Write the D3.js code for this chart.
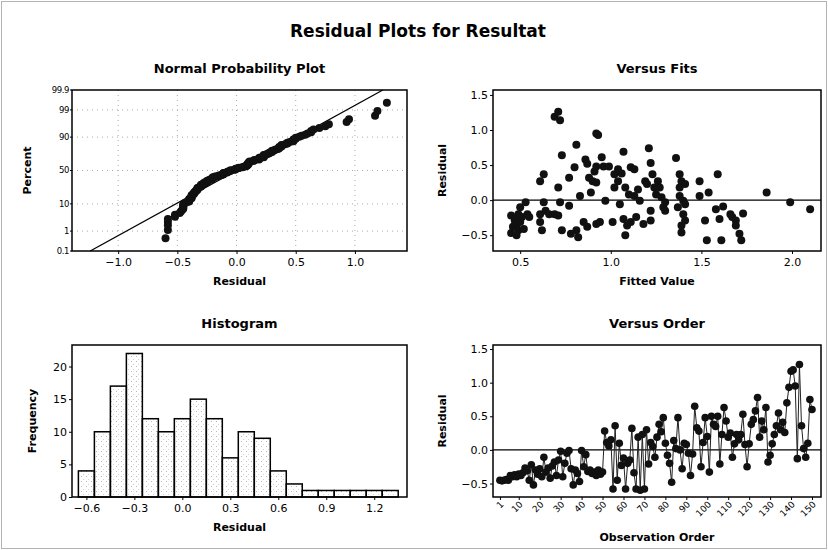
<!DOCTYPE html>
<html>
<head>
<meta charset="utf-8">
<script src="https://cdn.jsdelivr.net/npm/d3@7"></script>
<style>
body{margin:0;background:#fff}
text{font-family:"DejaVu Sans",Verdana,sans-serif}
</style>
</head>
<body>
<div id="chart"></div>
<script>
// residuals in observation order (1..150)
var residuals = [
 -0.45,-0.46,-0.45,-0.44,-0.45,-0.38,-0.40,-0.37,-0.40,-0.36,
 -0.38,-0.34,-0.27,-0.31,-0.45,-0.22,-0.52,-0.30,-0.36,-0.28,
 -0.40,-0.11,-0.33,-0.27,-0.42,-0.24,-0.18,-0.38,-0.15,-0.02,
 -0.40,-0.20,-0.05,-0.01,-0.28,-0.52,-0.30,-0.35,-0.47,-0.01,
 -0.25,-0.07,-0.32,-0.30,-0.35,-0.33,-0.38,-0.30,-0.36,-0.33,
 0.28,0.11,0.06,0.15,-0.58,0.36,-0.45,0.10,-0.23,-0.12,
 -0.58,-0.20,-0.15,0.32,-0.34,-0.58,0.19,-0.60,0.23,-0.58,
 0.30,-0.21,0.11,0.05,-0.11,0.19,0.38,0.27,0.48,0.10,
 -0.08,-0.20,-0.48,0.14,0.02,0.48,0.00,-0.28,0.10,0.08,
 -0.05,-0.38,-0.06,0.65,0.33,0.28,-0.25,0.11,0.48,0.20,
 -0.33,0.50,0.38,0.35,0.50,-0.21,0.23,0.63,0.43,0.19,
 0.25,-0.11,0.09,0.23,0.15,0.23,0.53,0.08,-0.25,0.09,
 0.38,0.45,0.58,0.78,0.19,0.43,0.30,0.63,-0.18,-0.08,
 0.09,0.23,0.36,0.55,0.30,0.41,0.26,0.70,0.93,1.17,
 1.19,0.95,-0.13,1.27,0.36,0.02,-0.11,0.10,0.75,0.60
]

// versus fits: [fitted value, residual]
var fits = [
 [0.45,-0.47],[0.46,-0.38],[0.47,-0.29],[0.45,-0.22],[0.48,-0.36],[0.49,-0.43],[0.50,-0.31],[0.50,-0.10],
 [0.51,-0.24],[0.52,-0.41],[0.53,-0.03],[0.54,-0.20],[0.55,-0.24],[0.49,-0.20],[0.48,-0.50],[0.61,0.27],
 [0.63,0.37],[0.61,-0.20],[0.61,-0.31],[0.62,-0.43],[0.63,-0.03],[0.64,-0.15],[0.66,-0.20],[0.69,-0.20],
 [0.71,-0.22],[0.69,1.19],[0.71,1.26],[0.72,1.14],[0.71,0.18],[0.72,-0.03],[0.73,0.64],[0.73,-0.43],
 [0.77,0.32],[0.77,-0.08],[0.78,-0.48],[0.80,0.47],[0.81,0.79],[0.81,-0.43],[0.82,-0.53],[0.83,0.06],
 [0.85,-0.31],[0.86,0.58],[0.87,0.52],[0.87,-0.38],[0.88,0.32],[0.89,0.11],[0.90,0.27],[0.91,0.41],
 [0.92,0.48],[0.92,0.95],[0.93,0.93],[0.92,0.25],[0.92,-0.34],[0.94,-0.31],[0.95,0.61],[0.96,0.48],
 [0.97,-0.01],[0.99,0.48],[1.01,-0.31],[1.02,0.37],[1.02,0.18],[1.04,0.27],[1.04,0.44],[1.05,-0.06],
 [1.06,0.38],[1.07,0.69],[1.07,-0.27],[1.08,0.18],[1.09,-0.36],[1.08,-0.50],[1.10,0.08],[1.11,0.47],
 [1.11,-0.31],[1.13,0.44],[1.13,0.06],[1.14,-0.24],[1.15,0.15],[1.16,-0.01],[1.18,-0.34],[1.19,0.27],
 [1.20,0.23],[1.21,0.74],[1.22,0.53],[1.22,-0.15],[1.22,-0.29],[1.23,0.37],[1.24,0.18],[1.25,0.08],
 [1.26,0.27],[1.27,0.18],[1.28,0.04],[1.29,-0.10],[1.30,-0.03],[1.30,-0.15],[1.36,0.60],[1.37,-0.10],
 [1.38,0.37],[1.38,0.18],[1.38,0.06],[1.39,0.27],[1.39,-0.36],[1.39,-0.46],[1.40,-0.20],[1.40,-0.01],
 [1.41,-0.29],[1.41,0.23],[1.41,-0.06],[1.49,0.27],[1.49,0.06],[1.52,-0.29],[1.53,-0.57],[1.54,0.11],
 [1.58,-0.13],[1.59,0.37],[1.60,-0.27],[1.61,-0.57],[1.62,-0.09],[1.66,-0.20],[1.67,-0.24],[1.69,-0.29],
 [1.69,-0.36],[1.71,-0.48],[1.72,-0.57],[1.73,-0.19],[1.86,0.11],[1.99,-0.03],[2.10,-0.13]
]

// histogram
var histCenters = [-0.6,-0.5,-0.4,-0.3,-0.2,-0.1,0.0,0.1,0.2,0.3,0.4,0.5,0.6,0.7,0.8,0.9,1.0,1.1,1.2,1.3]
var histCounts = [4,10,17,22,12,10,12,15,12,6,10,9,4,2,1,1,1,1,1,1]

// fitted normal line
var lineMean = 0, lineSd = 0.4

// tick labels
var probTicks = [0.1,1,10,50,90,99,99.9]
var npXTicks = [-1.0,-0.5,0.0,0.5,1.0]
var residTicks = [-0.5,0.0,0.5,1.0,1.5]
var fitTicks = [0.5,1.0,1.5,2.0]
var histXTicks = [-0.6,-0.3,0.0,0.3,0.6,0.9,1.2]
var histYTicks = [0,5,10,15,20]
var orderTicks = [1,10,20,30,40,50,60,70,80,90,100,110,120,130,140,150]

var f1 = d3.format(".1f")

function probit(p){
  var a=[-39.69683028665376,220.9460984245205,-275.9285104469687,138.3577518672690,-30.66479806614716,2.506628277459239],
      b=[-54.47609879822406,161.5858368580409,-155.6989798598866,66.80131188771972,-13.28068155288572],
      c=[-7.784894002430293e-03,-0.3223964580411365,-2.400758277161838,-2.549732539343734,4.374664141464968,2.938163982698783],
      d=[7.784695709041462e-03,0.3224671290700398,2.445134137142996,3.754408661907416]
  var q,r
  if(p<0.02425){q=Math.sqrt(-2*Math.log(p));return (((((c[0]*q+c[1])*q+c[2])*q+c[3])*q+c[4])*q+c[5])/((((d[0]*q+d[1])*q+d[2])*q+d[3])*q+1)}
  if(p>1-0.02425){q=Math.sqrt(-2*Math.log(1-p));return -(((((c[0]*q+c[1])*q+c[2])*q+c[3])*q+c[4])*q+c[5])/((((d[0]*q+d[1])*q+d[2])*q+d[3])*q+1)}
  q=p-0.5;r=q*q
  return (((((a[0]*r+a[1])*r+a[2])*r+a[3])*r+a[4])*r+a[5])*q/(((((b[0]*r+b[1])*r+b[2])*r+b[3])*r+b[4])*r+1)
}

var svg = d3.select("#chart").append("svg")
  .attr("width",828).attr("height",550)

var defs = svg.append("defs")
var pat = defs.append("pattern").attr("id","stip")
  .attr("patternUnits","userSpaceOnUse").attr("width",5).attr("height",5)
pat.append("rect").attr("x",1).attr("y",1).attr("width",1).attr("height",1).attr("fill","#b8b8b8")
pat.append("rect").attr("x",3).attr("y",4).attr("width",1).attr("height",1).attr("fill","#d4d4d4")

// outer border
svg.append("rect").attr("x",1.5).attr("y",1.5).attr("width",825).attr("height",547)
  .attr("fill","none").attr("stroke","#666").attr("stroke-dasharray","1,1")

svg.append("text").text("Residual Plots for Resultat")
  .attr("x",418).attr("y",37).attr("text-anchor","middle")
  .attr("font-size",17).attr("font-weight","bold")

var L = {x0:72,x1:407}, R = {x0:493,x1:821}
var T = {y0:90,y1:251}, B = {y0:345,y1:497}

function panel(h,v,title,xlab,ylab,ylabX,xlabDy){
  var g = svg.append("g")
  g.append("text").text(title).attr("x",(h.x0+h.x1)/2).attr("y",v.y0-17)
    .attr("text-anchor","middle").attr("font-size",13).attr("font-weight","bold")
  g.append("text").text(xlab).attr("x",(h.x0+h.x1)/2).attr("y",v.y1+(xlabDy||34))
    .attr("text-anchor","middle").attr("font-size",11).attr("font-weight","bold")
  g.append("text").text(ylab)
    .attr("transform","translate("+ylabX+","+((v.y0+v.y1)/2)+") rotate(-90)")
    .attr("text-anchor","middle").attr("font-size",11).attr("font-weight","bold")
  return g
}
function frame(g,h,v){
  g.append("rect").attr("x",h.x0).attr("y",v.y0).attr("width",h.x1-h.x0).attr("height",v.y1-v.y0)
    .attr("fill","none").attr("stroke","#000").attr("stroke-width",1.5)
}
function axes(g,x,y,v,h,xt,yt,xf,yf){
  var ax = g.append("g").attr("transform","translate(0,"+v.y1+")")
    .call(d3.axisBottom(x).tickValues(xt).tickFormat(xf).tickSize(3).tickPadding(4))
  var ay = g.append("g").attr("transform","translate("+h.x0+",0)")
    .call(d3.axisLeft(y).tickValues(yt).tickFormat(yf).tickSize(3).tickPadding(2))
  ax.select(".domain").remove(); ay.select(".domain").remove()
  ax.selectAll("text").attr("font-size",11).attr("fill","#000").attr("font-family","DejaVu Sans")
  ay.selectAll("text").attr("font-size",11).attr("fill","#000").attr("font-family","DejaVu Sans")
  return ax
}

// ---- Normal probability plot
var g1 = panel(L,T,"Normal Probability Plot","Residual","Percent",31)
var x1 = d3.scaleLinear().domain([-1.39,1.44]).range([L.x0,L.x1])
var zs = d3.scaleLinear().domain([probit(0.001),probit(0.999)]).range([T.y1,T.y0])
var y1 = p=>zs(probit(p/100))
g1.selectAll(".hg").data(probTicks.slice(1,-1)).enter().append("line")
  .attr("x1",L.x0).attr("x2",L.x1).attr("y1",d=>y1(d)).attr("y2",d=>y1(d))
  .attr("stroke","#aaa").attr("stroke-dasharray","1,4")
g1.selectAll(".vg").data(npXTicks).enter().append("line")
  .attr("y1",T.y0).attr("y2",T.y1).attr("x1",d=>x1(d)).attr("x2",d=>x1(d))
  .attr("stroke","#aaa").attr("stroke-dasharray","1,4")
var zEnds = [probit(0.001),probit(0.999)]
g1.append("line")
  .attr("x1",x1(lineMean+lineSd*zEnds[0])).attr("y1",zs(zEnds[0]))
  .attr("x2",x1(lineMean+lineSd*zEnds[1])).attr("y2",zs(zEnds[1]))
  .attr("stroke","#000").attr("stroke-width",1.3)
var sorted = residuals.slice().sort(d3.ascending)
var n = sorted.length
g1.selectAll(".np").data(sorted).enter().append("circle")
  .attr("cx",d=>x1(d)).attr("cy",(d,i)=>zs(probit((i+1-0.3)/(n+0.4))))
  .attr("r",4).attr("fill","#111")
frame(g1,L,T)
var ay1 = g1.append("g").attr("transform","translate("+L.x0+",0)")
ay1.selectAll("t").data(probTicks).enter().append("text")
  .text(d=>d).attr("x",-3).attr("y",d=>y1(d)).attr("dy","0.35em")
  .attr("text-anchor","end").attr("font-size",8.5).attr("letter-spacing",-0.4)
ay1.selectAll("l").data(probTicks).enter().append("line")
  .attr("x1",-2).attr("x2",0).attr("y1",d=>y1(d)).attr("y2",d=>y1(d)).attr("stroke","#000")
var ax1 = g1.append("g").attr("transform","translate(0,"+T.y1+")")
  .call(d3.axisBottom(x1).tickValues(npXTicks).tickFormat(f1).tickSize(3).tickPadding(4))
ax1.select(".domain").remove()
ax1.selectAll("text").attr("font-size",11).attr("fill","#000").attr("font-family","DejaVu Sans")

// ---- Versus fits
var g2 = panel(R,T,"Versus Fits","Fitted Value","Residual",446)
var x2 = d3.scaleLinear().domain([0.35,2.16]).range([R.x0,R.x1])
var y2 = d3.scaleLinear().domain([-0.725,1.57]).range([T.y1,T.y0])
g2.append("line").attr("x1",R.x0).attr("x2",R.x1).attr("y1",y2(0)).attr("y2",y2(0))
  .attr("stroke","#000").attr("stroke-width",1.3)
g2.selectAll(".pt").data(fits).enter().append("circle")
  .attr("cx",d=>x2(d[0])).attr("cy",d=>y2(d[1])).attr("r",4).attr("fill","#111")
frame(g2,R,T)
axes(g2,x2,y2,T,R,fitTicks,residTicks,f1,f1)

// ---- Histogram
var g3 = panel(L,B,"Histogram","Residual","Frequency",36)
var x3 = d3.scaleLinear().domain([-0.69,1.405]).range([L.x0,L.x1])
var y3 = d3.scaleLinear().domain([0,23.3]).range([B.y1,B.y0])
g3.selectAll(".bar").data(histCounts).enter().append("rect")
  .attr("x",(d,i)=>x3(histCenters[i]-0.05)).attr("width",(d,i)=>x3(histCenters[i]+0.05)-x3(histCenters[i]-0.05))
  .attr("y",d=>y3(d)).attr("height",d=>y3(0)-y3(d))
  .attr("fill","url(#stip)").attr("stroke","#000").attr("stroke-width",1.5)
frame(g3,L,B)
axes(g3,x3,y3,B,L,histXTicks,histYTicks,f1,d3.format("d"))

// ---- Versus order
var g4 = panel(R,B,"Versus Order","Observation Order","Residual",446,44)
var x4 = d3.scaleLinear().domain([-2.3,154.3]).range([R.x0,R.x1])
var y4 = d3.scaleLinear().domain([-0.7,1.56]).range([B.y1,B.y0])
g4.append("line").attr("x1",R.x0).attr("x2",R.x1).attr("y1",y4(0)).attr("y2",y4(0))
  .attr("stroke","#000").attr("stroke-width",1.3)
g4.append("path").datum(residuals)
  .attr("d",d3.line().x((d,i)=>x4(i+1)).y(d=>y4(d)))
  .attr("fill","none").attr("stroke","#222").attr("stroke-width",1)
g4.selectAll(".pt").data(residuals).enter().append("circle")
  .attr("cx",(d,i)=>x4(i+1)).attr("cy",d=>y4(d)).attr("r",3.8).attr("fill","#111")
frame(g4,R,B)
var ax4 = axes(g4,x4,y4,B,R,orderTicks,residTicks,d3.format("d"),f1)
ax4.selectAll("text").attr("font-size",9).attr("y",0).attr("x",0).attr("dy",0)
  .attr("text-anchor","end").attr("transform","translate(4,8) rotate(-45)")
</script>
</body>
</html>
